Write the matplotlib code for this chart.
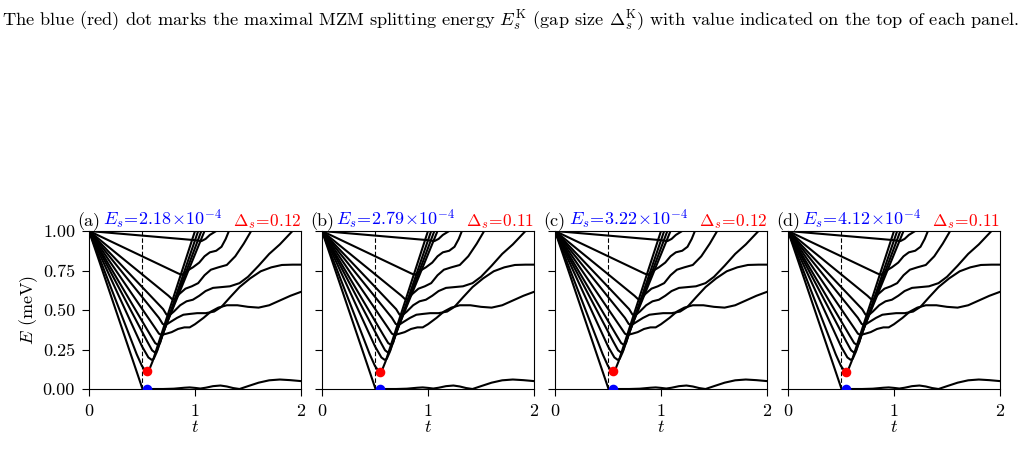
import numpy as np
import matplotlib.pyplot as plt

plt.rcParams['font.family'] = 'serif'
plt.rcParams['font.serif'] = ['cmr10', 'DejaVu Serif']
plt.rcParams['mathtext.fontset'] = 'cm'
plt.rcParams['axes.formatter.use_mathtext'] = True
plt.rcParams['axes.unicode_minus'] = False

# panel labels and marked values
panel_tags = ['(a)', '(b)', '(c)', '(d)']
es_text = [r'$E_s\!=\!2.18\!\times\!10^{-4}$', r'$E_s\!=\!2.79\!\times\!10^{-4}$',
           r'$E_s\!=\!3.22\!\times\!10^{-4}$', r'$E_s\!=\!4.12\!\times\!10^{-4}$']
ds_text = [r'$\Delta_s\!=\!0.12$', r'$\Delta_s\!=\!0.11$',
           r'$\Delta_s\!=\!0.12$', r'$\Delta_s\!=\!0.11$']
t_dot = [0.55, 0.55, 0.55, 0.55]
gap_dot = [0.115, 0.11, 0.115, 0.11]
split_dot = [0.0, 0.0, 0.0, 0.0]
t_dash = 0.5

# spectrum curves E(t)
t_mzm = [0, 0.505, 0.6, 0.7, 0.8, 0.9, 0.95, 1.0, 1.05, 1.1, 1.17, 1.24, 1.3, 1.36, 1.42, 1.5, 1.6, 1.7, 1.8, 1.9, 2.0]
e_mzm = [1.0, 0.0, 0.0, 0.0, 0.002, 0.008, 0.01, 0.007, 0.003, 0.008, 0.018, 0.022, 0.016, 0.006, 0.0, 0.018, 0.04, 0.055, 0.06, 0.056, 0.05]

t_v1 = [0, 0.45, 0.5, 0.53, 0.55, 0.57, 0.6, 1.0]
e_v1 = [1.0, 0.22, 0.145, 0.118, 0.112, 0.125, 0.175, 1.0]
t_v2 = [0, 0.5, 0.56, 0.59, 0.61, 0.64, 1.03]
e_v2 = [1.0, 0.27, 0.2, 0.185, 0.19, 0.235, 1.0]
t_v3 = [0, 0.55, 0.595, 0.62, 0.64, 0.67, 1.06]
e_v3 = [1.0, 0.3, 0.245, 0.232, 0.24, 0.3, 1.0]
t_v4 = [0, 0.58, 0.625, 0.65, 0.67, 0.7, 1.09]
e_v4 = [1.0, 0.34, 0.29, 0.28, 0.29, 0.36, 1.0]

t_v5 = [0, 0.62, 0.66, 0.685, 0.7, 0.73, 0.78, 0.84, 0.9, 0.95, 1.0, 1.08, 1.15, 1.22, 1.3, 1.4, 1.5, 1.6, 1.7, 1.8, 1.9, 2.0]
e_v5 = [1.0, 0.39, 0.35, 0.342, 0.345, 0.35, 0.36, 0.38, 0.39, 0.39, 0.41, 0.45, 0.49, 0.515, 0.53, 0.53, 0.52, 0.515, 0.53, 0.56, 0.59, 0.615]
t_v6 = [0, 0.66, 0.695, 0.715, 0.735, 0.77, 0.83, 0.89, 0.95, 1.02, 1.1, 1.18, 1.25, 1.33, 1.42, 1.52, 1.62, 1.72, 1.82, 1.92, 2.0]
e_v6 = [1.0, 0.45, 0.412, 0.405, 0.41, 0.425, 0.45, 0.47, 0.475, 0.48, 0.48, 0.49, 0.52, 0.58, 0.645, 0.70, 0.745, 0.77, 0.785, 0.787, 0.787]
t_v7 = [0, 0.7, 0.73, 0.748, 0.765, 0.8, 0.86, 0.92, 0.98, 1.04, 1.1, 1.17, 1.25, 1.33, 1.42, 1.5, 1.6, 1.7, 1.8, 1.92]
e_v7 = [1.0, 0.505, 0.472, 0.466, 0.47, 0.49, 0.53, 0.555, 0.565, 0.59, 0.62, 0.64, 0.645, 0.65, 0.67, 0.71, 0.78, 0.855, 0.915, 1.0]
t_v8 = [0, 0.75, 0.78, 0.795, 0.81, 0.85, 0.91, 0.97, 1.03, 1.09, 1.15, 1.22, 1.3, 1.38, 1.46, 1.53]
e_v8 = [1.0, 0.59, 0.571, 0.566, 0.57, 0.6, 0.635, 0.65, 0.67, 0.72, 0.755, 0.77, 0.785, 0.84, 0.92, 1.0]
t_v9 = [0, 0.84, 0.862, 0.875, 0.89, 0.93, 0.98, 1.04, 1.09, 1.14, 1.2, 1.25, 1.29, 1.32]
e_v9 = [1.0, 0.732, 0.726, 0.724, 0.728, 0.75, 0.77, 0.8, 0.84, 0.865, 0.875, 0.9, 0.95, 1.0]
t_v10 = [0, 1.0, 1.06, 1.1, 1.14, 1.2]
e_v10 = [1.0, 0.942, 0.936, 0.95, 0.975, 1.0]

curves = [(t_mzm, e_mzm), (t_v1, e_v1), (t_v2, e_v2), (t_v3, e_v3), (t_v4, e_v4),
          (t_v5, e_v5), (t_v6, e_v6), (t_v7, e_v7), (t_v8, e_v8), (t_v9, e_v9), (t_v10, e_v10)]

caption = (r'The blue (red) dot marks the maximal MZM splitting energy $E_s^{\rm K}$ '
           r'(gap size $\Delta_s^{\rm K}$) with value indicated on the top of each panel.')

fig = plt.figure(figsize=(10.27, 4.68), dpi=100)
fig.text(0.002, 0.957, caption, fontsize=13.2, ha='left', va='center')

W, H = 1027.0, 468.0
for i in range(4):
    left = 89 + 233 * i
    ax = fig.add_axes([left / W, 1 - 389 / H, 212 / W, 158 / H])
    for tc, ec in curves:
        ax.plot(tc, ec, color='black', lw=1.5)
    ax.plot([t_dash, t_dash], [0, 1], color='black', lw=0.8, ls=(0, (4, 2)))
    ax.scatter([t_dot[i]], [gap_dot[i]], s=35, color='red', zorder=5)
    ax.scatter([t_dot[i]], [split_dot[i]], s=35, color='blue', zorder=5)
    ax.set_xlim(0, 2)
    ax.set_ylim(0, 1)
    ax.set_xticks([0, 1, 2])
    ax.set_yticks([0, 0.25, 0.5, 0.75, 1.0])
    ax.tick_params(direction='out', labelsize=13, length=5, pad=5)
    ax.set_xlabel(r'$t$', fontsize=13, labelpad=0)
    if i == 0:
        ax.set_ylabel(r'$E$ (meV)', fontsize=13, labelpad=2)
        ax.set_yticklabels(['0.00', '0.25', '0.50', '0.75', '1.00'])
    else:
        ax.set_yticklabels([])
    ax.text(-12 / 212, 1.0, panel_tags[i], transform=ax.transAxes, fontsize=13,
            ha='left', va='bottom')
    ax.text(14 / 212, 1.0, es_text[i], transform=ax.transAxes, fontsize=13,
            ha='left', va='bottom', color='blue')
    ax.text(1.0, 1.0, ds_text[i], transform=ax.transAxes, fontsize=12.5,
            ha='right', va='bottom', color='red')

plt.savefig('out.png', dpi=100)
